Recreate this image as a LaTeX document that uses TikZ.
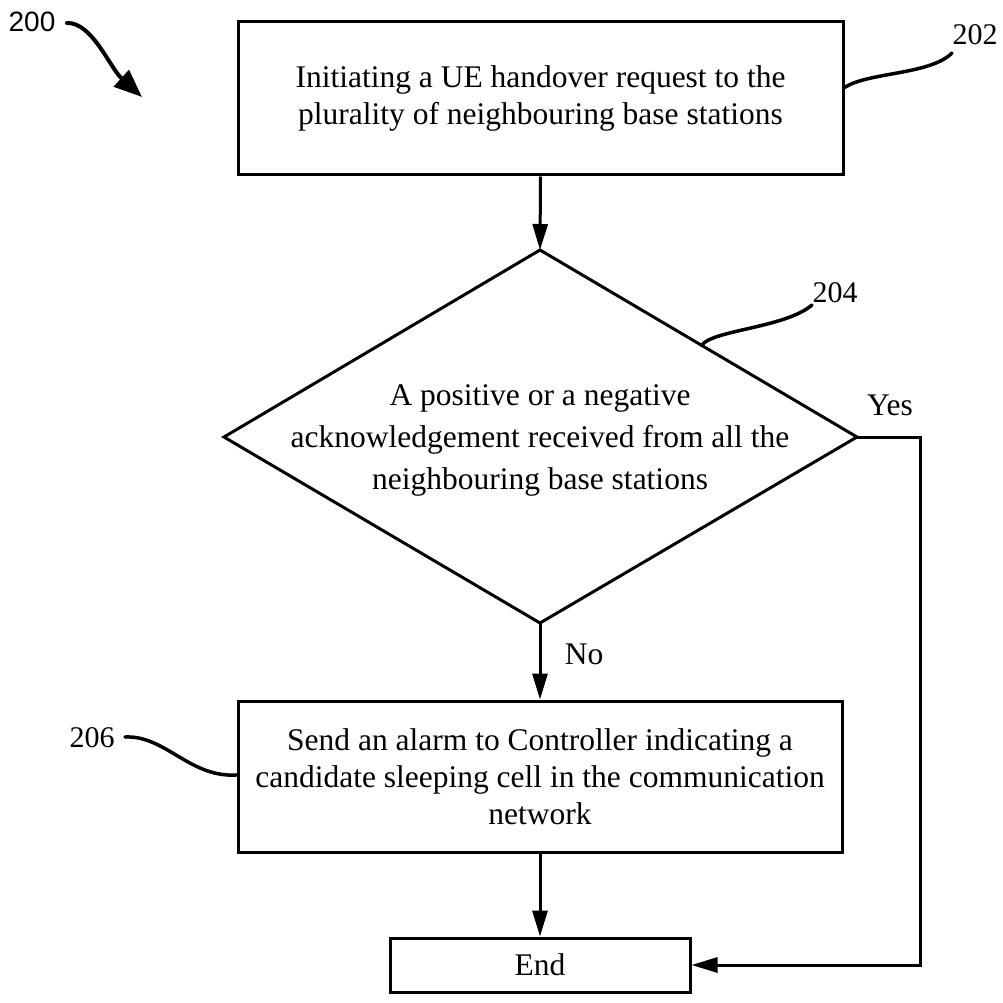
\documentclass[tikz,border=0pt]{standalone}
\usepackage{fontspec}
\setmainfont{Liberation Serif}
\newfontfamily\labsans{Liberation Sans}
\usetikzlibrary{arrows.meta,calc}
\begin{document}
\begin{tikzpicture}[x=1pt,y=-1pt,
  line width=3pt,
  txt/.style={font=\fontsize{31.5}{37}\selectfont, align=center, inner sep=0pt},
  proc/.style={txt, draw, line width=3pt},
  flow/.style={-{Triangle[length=26pt,width=15pt]}, line width=3pt},
  lead/.style={line width=3.5pt, line cap=round},
  ref/.style={font=\fontsize{30}{36}\selectfont, inner sep=0pt},
]
\useasboundingbox (0,0) rectangle (1002,1003);

% process boxes
\node[proc, minimum width=605pt, minimum height=153pt] (b202) at (540.5,98.5)
  {Initiating a UE handover request to the\\plurality of neighbouring base stations};

\coordinate (dT) at (540,250);
\coordinate (dR) at (857,437);
\coordinate (dB) at (540,623);
\coordinate (dL) at (224,437);
\draw (dT) -- (dR) -- (dB) -- (dL) -- cycle;
\node[txt, font=\fontsize{31.5}{42}\selectfont] (d204) at (540,440)
  {A positive or a negative\\acknowledgement received from all the\\neighbouring base stations};

\node[proc, minimum width=604pt, minimum height=151pt] (b206) at (540,776.5)
  {Send an alarm to Controller indicating a\\candidate sleeping cell in the communication\\network};

\node[proc, minimum width=300pt, minimum height=54pt] (endb) at (540,965) {End};

% connectors
\coordinate (yc) at (920,437);
\draw[flow] (b202.south) -- (dT);
\draw[flow] (dB) -- (b206.north);
\draw[flow] (b206.south) -- (endb.north);
\draw[flow] (dR) -- (yc) |- (endb.east);

\node[txt] (yes) at (890,405) {Yes};
\node[txt] (no) at (584,654) {No};

% reference labels
\node[inner sep=0pt, font=\labsans\fontsize{28}{32}\selectfont] (l200) at (32,22) {200};
\coordinate (c200) at (142,97);
\draw[lead, line width=4pt, -{Triangle[length=28pt,width=22pt]}] (67,23) .. controls (92,22) and (110,68) .. (c200);

\node[ref] (l202) at (975,35) {202};
\coordinate (c202) at (952,53);
\draw[lead] ($(b202.north east)!0.43!(b202.south east)$) .. controls (868,72) and (930,75) .. (c202);

\node[ref] (l204) at (835,293) {204};
\coordinate (c204) at (812,305);
\draw[lead] ($(dT)!0.51!(dR)$) .. controls (712,330) and (785,328) .. (c204);

\node[ref] (l206) at (92,738) {206};
\coordinate (c206) at (125,737);
\draw[lead] (c206) .. controls (165,735) and (190,778) .. ($(b206.north west)!0.49!(b206.south west)$);
\end{tikzpicture}
\end{document}
